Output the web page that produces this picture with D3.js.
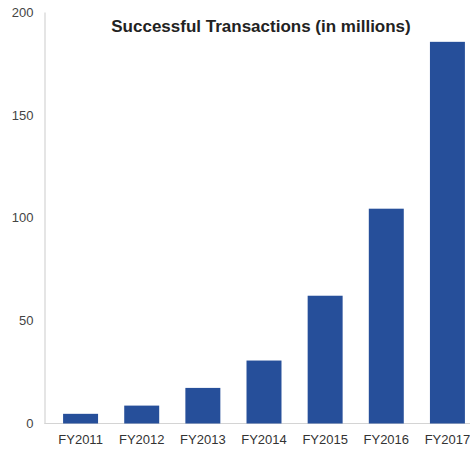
<!DOCTYPE html>
<html>
<head>
<meta charset="utf-8">
<script src="https://cdn.jsdelivr.net/npm/d3@7"></script>
<style>
  body { margin: 0; background: #fff; }
  text { font-family: "Liberation Sans", Arial, sans-serif; }
</style>
</head>
<body>
<svg class="chart"></svg>
<script>
// chart data
let years = ["FY2011", "FY2012", "FY2013", "FY2014", "FY2015", "FY2016", "FY2017"];
let transactions = [4.7, 8.7, 17.3, 30.6, 62.1, 104.4, 185.5];
let yTicks = [0, 50, 100, 150, 200];

let width = 470;
let height = 449;

let chart = d3.select('.chart')
    .attr('width', width)
    .attr('height', height);

let x = d3.scaleBand()
    .domain(years)
    .range([50, 478])
    .paddingInner(0.428)
    .paddingOuter(0.214);

let y = d3.scaleLinear()
    .domain([0, 200])
    .range([423.5, 12]);

// y axis: light line, labels only
let yAxis = d3.axisLeft(y)
    .tickValues(yTicks)
    .tickSize(0)
    .tickPadding(11);

let yg = chart.append('g')
    .attr('transform', 'translate(44.5,0)')
    .call(yAxis);
yg.select('.domain').attr('stroke', '#d4d4d4').attr('stroke-width', 1.2);
yg.selectAll('text')
    .attr('font-size', 13)
    .attr('fill', '#444');

// baseline
chart.append('line')
    .attr('x1', 44.5).attr('x2', 470)
    .attr('y1', y(0)).attr('y2', y(0))
    .attr('stroke', '#d4d4d4')
    .attr('stroke-width', 1.2);

// bars
chart.append('g').selectAll('rect')
    .data(transactions)
    .enter().append('rect')
    .attr('x', function(d, i) { return x(years[i]); })
    .attr('width', x.bandwidth())
    .attr('y', function(d) { return y(d); })
    .attr('height', function(d) { return y(0) - y(d); })
    .attr('fill', '#264f9a');

// x axis labels
let xAxis = d3.axisBottom(x)
    .tickSize(0)
    .tickPadding(11);

let xg = chart.append('g')
    .attr('transform', 'translate(0,' + y(0) + ')')
    .call(xAxis);
xg.select('.domain').remove();
xg.selectAll('text')
    .attr('font-size', 13)
    .attr('fill', '#333');

// title
chart.append('text')
    .attr('x', 261)
    .attr('y', 32)
    .attr('text-anchor', 'middle')
    .attr('font-size', 17)
    .attr('font-weight', 'bold')
    .attr('fill', '#222')
    .text('Successful Transactions (in millions)');
</script>
</body>
</html>
